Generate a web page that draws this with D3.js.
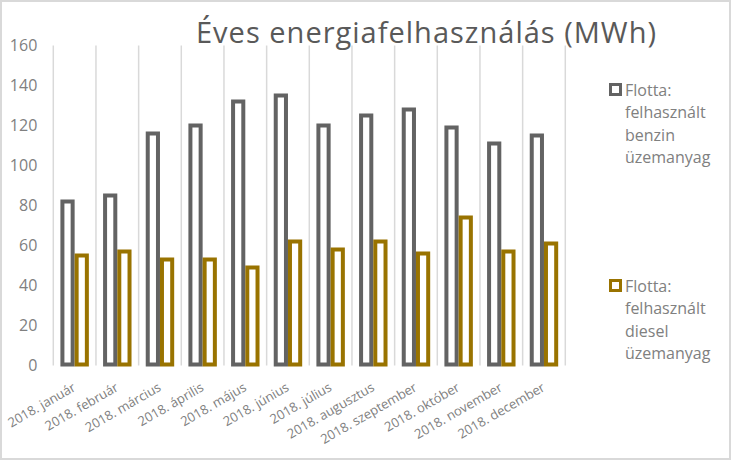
<!DOCTYPE html>
<html>
<head>
<meta charset="utf-8">
<script src="https://cdn.jsdelivr.net/npm/d3@7"></script>
<style>
  body { margin: 0; background: #fff; }
  text { font-family: "Open Sans", sans-serif; }
</style>
</head>
<body>
<div id="chart"></div>
<script>
// monthly values, MWh
const months = ["2018. január", "2018. február", "2018. március", "2018. április",
  "2018. május", "2018. június", "2018. július", "2018. augusztus",
  "2018. szeptember", "2018. október", "2018. november", "2018. december"];
const benzin = [82, 85, 116, 120, 132, 135, 120, 125, 128, 119, 111, 115];
const diesel = [55, 57, 53, 53, 49, 62, 58, 62, 56, 74, 57, 61];
const seriesNames = ["Flotta: felhasznált benzin üzemanyag", "Flotta: felhasznált diesel üzemanyag"];
const legendLines = [["Flotta:", "felhasznált", "benzin", "üzemanyag"],
  ["Flotta:", "felhasznált", "diesel", "üzemanyag"]];
const yTicks = [0, 20, 40, 60, 80, 100, 120, 140, 160];
const title = "Éves energiafelhasználás (MWh)";

var W = 732, H = 461;
var plot = { left: 53.3, right: 565.3, top: 45.5, bottom: 365.5 };
var colors = ["#636363", "#997300"];
var labelColor = "#808080";

var svg = d3.select("#chart").append("svg")
  .attr("width", W)
  .attr("height", H);

// chart border
svg.append("rect")
  .attr("x", 1).attr("y", 1)
  .attr("width", W - 3).attr("height", H - 3)
  .attr("fill", "#fff")
  .attr("stroke", "#d9d9d9")
  .attr("stroke-width", 2);

var x0 = d3.scaleBand()
  .domain(months)
  .range([plot.left, plot.right]);

var x1 = d3.scaleBand()
  .domain([0, 1])
  .range([0, x0.bandwidth()])
  .paddingInner(0)
  .paddingOuter(0.5);

var y = d3.scaleLinear()
  .domain([0, 160])
  .range([plot.bottom, plot.top]);

// vertical gridlines on category boundaries
var bounds = months.map(function (m) { return x0(m); }).concat([plot.right]);
svg.append("g")
  .selectAll("line")
  .data(bounds)
  .enter().append("line")
  .attr("x1", function (d) { return d; })
  .attr("x2", function (d) { return d; })
  .attr("y1", y(160))
  .attr("y2", y(0))
  .attr("stroke", "#d9d9d9")
  .attr("stroke-width", 1.5);

// y axis
var yAxis = svg.append("g")
  .attr("transform", "translate(" + plot.left + ",0)")
  .call(d3.axisLeft(y).tickValues(yTicks).tickSize(0).tickPadding(16));
yAxis.select(".domain").remove();
yAxis.selectAll("text")
  .attr("fill", labelColor)
  .style("font-size", "16px")
  .style("font-family", "'Open Sans', sans-serif");

// x axis labels, rotated
var xAxis = svg.append("g")
  .attr("transform", "translate(0," + plot.bottom + ")")
  .call(d3.axisBottom(x0).tickSize(0));
xAxis.select(".domain").remove();
xAxis.selectAll("text")
  .attr("fill", labelColor)
  .attr("y", 0)
  .attr("dy", 0)
  .attr("text-anchor", "end")
  .attr("transform", "translate(2,24.5) rotate(-30)")
  .style("font-size", "13px")
  .style("font-family", "'Open Sans', sans-serif");

// bars
var rows = months.map(function (m, i) {
  return { month: m, values: [benzin[i], diesel[i]] };
});

var group = svg.selectAll(".month")
  .data(rows)
  .enter().append("g")
  .attr("class", "month")
  .attr("transform", function (d) { return "translate(" + x0(d.month) + ",0)"; });

group.selectAll("rect")
  .data(function (d) { return d.values.map(function (v, k) { return { k: k, v: v }; }); })
  .enter().append("rect")
  .attr("x", function (d) { return x1(d.k) + 2; })
  .attr("width", x1.bandwidth() - 4)
  .attr("y", function (d) { return y(d.v); })
  .attr("height", function (d) { return y(0) - y(d.v) - 1; })
  .attr("fill", "#fff")
  .attr("stroke", function (d) { return colors[d.k]; })
  .attr("stroke-width", 4);

// title, spaced out like the original
svg.append("text")
  .attr("x", 426)
  .attr("y", 43)
  .attr("text-anchor", "middle")
  .attr("fill", "#595959")
  .attr("textLength", 460)
  .attr("lengthAdjust", "spacing")
  .style("font-size", "29px")
  .text(title);

// legend
var legendTop = [83, 279];
var legend = svg.selectAll(".legend")
  .data(seriesNames)
  .enter().append("g")
  .attr("class", "legend")
  .attr("transform", function (d, i) { return "translate(609," + legendTop[i] + ")"; });

legend.append("rect")
  .attr("x", 1.5).attr("y", 1.5)
  .attr("width", 10).attr("height", 10)
  .attr("fill", "#fff")
  .attr("stroke", function (d, i) { return colors[i]; })
  .attr("stroke-width", 3);

legend.append("text")
  .attr("x", 16)
  .attr("y", 12.5)
  .attr("fill", labelColor)
  .style("font-size", "16px")
  .selectAll("tspan")
  .data(function (d, i) { return legendLines[i]; })
  .enter().append("tspan")
  .attr("x", 16)
  .attr("dy", function (d, j) { return j === 0 ? 0 : 22.5; })
  .text(function (d) { return d; });
</script>
</body>
</html>
